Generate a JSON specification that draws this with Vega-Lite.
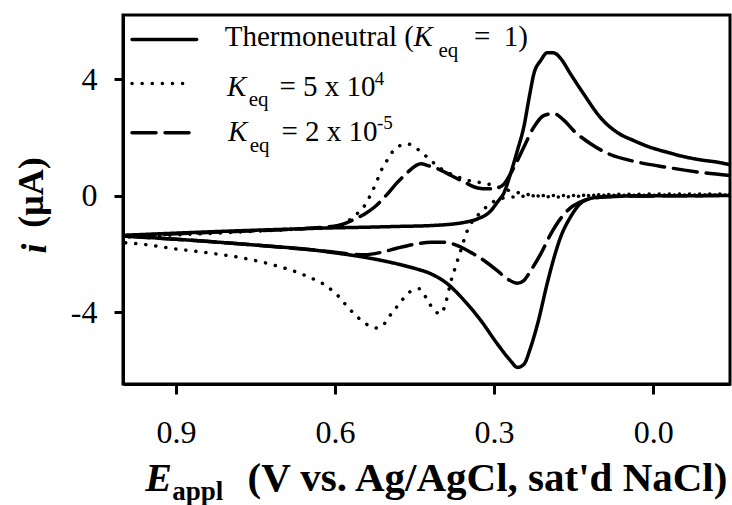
{
  "$schema": "https://vega.github.io/schema/vega-lite/v6.json",
  "width": 607,
  "height": 369,
  "autosize": {"type": "none"},
  "padding": {"left": 123, "top": 15, "right": 2, "bottom": 121},
  "background": "white",
  "config": {
    "view": {"stroke": "black", "strokeWidth": 3},
    "axis": {
      "grid": false,
      "domainColor": "black",
      "domainWidth": 3,
      "tickColor": "black",
      "tickWidth": 3,
      "labelColor": "black",
      "labelFont": "Liberation Serif",
      "labelFontSize": 32,
      "titleFont": "Liberation Serif",
      "titleColor": "black",
      "titleFontWeight": "bold"
    }
  },
  "datasets": {
    "curves": [
      {"s":"T","b":"T1","k":0,"E":0.995,"I":-1.38},{"s":"T","b":"T1","k":1,"E":0.95,"I":-1.44},{"s":"T","b":"T1","k":2,"E":0.90,"I":-1.50},{"s":"T","b":"T1","k":3,"E":0.85,"I":-1.56},{"s":"T","b":"T1","k":4,"E":0.80,"I":-1.63},{"s":"T","b":"T1","k":5,"E":0.75,"I":-1.70},{"s":"T","b":"T1","k":6,"E":0.70,"I":-1.77},{"s":"T","b":"T1","k":7,"E":0.65,"I":-1.85},{"s":"T","b":"T1","k":8,"E":0.607,"I":-1.95},{"s":"T","b":"T1","k":9,"E":0.544,"I":-2.12},{"s":"T","b":"T1","k":10,"E":0.482,"I":-2.35},{"s":"T","b":"T1","k":11,"E":0.45,"I":-2.50},{"s":"T","b":"T1","k":12,"E":0.419,"I":-2.69},{"s":"T","b":"T1","k":13,"E":0.388,"I":-3.03},{"s":"T","b":"T1","k":14,"E":0.356,"I":-3.61},{"s":"T","b":"T1","k":15,"E":0.325,"I":-4.29},{"s":"T","b":"T1","k":16,"E":0.294,"I":-5.09},{"s":"T","b":"T1","k":17,"E":0.269,"I":-5.67},{"s":"T","b":"T1","k":18,"E":0.256,"I":-5.90},{"s":"T","b":"T1","k":19,"E":0.244,"I":-5.80},{"s":"T","b":"T1","k":20,"E":0.231,"I":-5.21},{"s":"T","b":"T1","k":21,"E":0.218,"I":-4.41},{"s":"T","b":"T1","k":22,"E":0.200,"I":-3.03},{"s":"T","b":"T1","k":23,"E":0.188,"I":-2.20},{"s":"T","b":"T1","k":24,"E":0.175,"I":-1.45},{"s":"T","b":"T1","k":25,"E":0.156,"I":-0.74},{"s":"T","b":"T1","k":26,"E":0.137,"I":-0.27},{"s":"T","b":"T1","k":27,"E":0.12,"I":-0.11},{"s":"T","b":"T1","k":28,"E":0.10,"I":-0.05},{"s":"T","b":"T1","k":29,"E":0.06,"I":-0.02},{"s":"T","b":"T1","k":30,"E":0.0,"I":-0.01},{"s":"T","b":"T1","k":31,"E":-0.145,"I":0.0},
      {"s":"T","b":"T2","k":0,"E":-0.145,"I":1.06},{"s":"T","b":"T2","k":1,"E":-0.12,"I":1.15},{"s":"T","b":"T2","k":2,"E":-0.088,"I":1.23},{"s":"T","b":"T2","k":3,"E":-0.057,"I":1.34},{"s":"T","b":"T2","k":4,"E":-0.026,"I":1.49},{"s":"T","b":"T2","k":5,"E":0.006,"I":1.66},{"s":"T","b":"T2","k":6,"E":0.037,"I":1.89},{"s":"T","b":"T2","k":7,"E":0.068,"I":2.17},{"s":"T","b":"T2","k":8,"E":0.10,"I":2.69},{"s":"T","b":"T2","k":9,"E":0.131,"I":3.49},{"s":"T","b":"T2","k":10,"E":0.156,"I":4.18},{"s":"T","b":"T2","k":11,"E":0.175,"I":4.72},{"s":"T","b":"T2","k":12,"E":0.188,"I":4.90},{"s":"T","b":"T2","k":13,"E":0.200,"I":4.90},{"s":"T","b":"T2","k":14,"E":0.212,"I":4.64},{"s":"T","b":"T2","k":15,"E":0.225,"I":4.18},{"s":"T","b":"T2","k":16,"E":0.233,"I":3.45},{"s":"T","b":"T2","k":17,"E":0.244,"I":2.35},{"s":"T","b":"T2","k":18,"E":0.256,"I":1.55},{"s":"T","b":"T2","k":19,"E":0.269,"I":0.75},{"s":"T","b":"T2","k":20,"E":0.281,"I":0.11},{"s":"T","b":"T2","k":21,"E":0.294,"I":-0.23},{"s":"T","b":"T2","k":22,"E":0.306,"I":-0.52},{"s":"T","b":"T2","k":23,"E":0.331,"I":-0.80},{"s":"T","b":"T2","k":24,"E":0.356,"I":-0.92},{"s":"T","b":"T2","k":25,"E":0.419,"I":-1.03},{"s":"T","b":"T2","k":26,"E":0.482,"I":-1.06},{"s":"T","b":"T2","k":27,"E":0.55,"I":-1.09},{"s":"T","b":"T2","k":28,"E":0.607,"I":-1.11},{"s":"T","b":"T2","k":29,"E":0.70,"I":-1.16},{"s":"T","b":"T2","k":30,"E":0.80,"I":-1.22},{"s":"T","b":"T2","k":31,"E":0.90,"I":-1.29},{"s":"T","b":"T2","k":32,"E":0.995,"I":-1.36},
      {"s":"A","b":"A1","k":0,"E":0.995,"I":-1.62},{"s":"A","b":"A1","k":1,"E":0.95,"I":-1.70},{"s":"A","b":"A1","k":2,"E":0.914,"I":-1.80},{"s":"A","b":"A1","k":3,"E":0.851,"I":-1.94},{"s":"A","b":"A1","k":4,"E":0.785,"I":-2.11},{"s":"A","b":"A1","k":5,"E":0.723,"I":-2.35},{"s":"A","b":"A1","k":6,"E":0.657,"I":-2.74},{"s":"A","b":"A1","k":7,"E":0.613,"I":-3.15},{"s":"A","b":"A1","k":8,"E":0.594,"I":-3.45},{"s":"A","b":"A1","k":9,"E":0.576,"I":-3.83},{"s":"A","b":"A1","k":10,"E":0.554,"I":-4.23},{"s":"A","b":"A1","k":11,"E":0.532,"I":-4.50},{"s":"A","b":"A1","k":12,"E":0.520,"I":-4.55},{"s":"A","b":"A1","k":13,"E":0.510,"I":-4.46},{"s":"A","b":"A1","k":14,"E":0.494,"I":-4.06},{"s":"A","b":"A1","k":15,"E":0.479,"I":-3.72},{"s":"A","b":"A1","k":16,"E":0.460,"I":-3.32},{"s":"A","b":"A1","k":17,"E":0.441,"I":-3.20},{"s":"A","b":"A1","k":18,"E":0.425,"I":-3.61},{"s":"A","b":"A1","k":19,"E":0.413,"I":-3.95},{"s":"A","b":"A1","k":20,"E":0.400,"I":-4.06},{"s":"A","b":"A1","k":21,"E":0.391,"I":-3.66},{"s":"A","b":"A1","k":22,"E":0.381,"I":-2.92},{"s":"A","b":"A1","k":23,"E":0.372,"I":-2.40},{"s":"A","b":"A1","k":24,"E":0.363,"I":-1.89},{"s":"A","b":"A1","k":25,"E":0.353,"I":-1.32},{"s":"A","b":"A1","k":26,"E":0.322,"I":-0.52},{"s":"A","b":"A1","k":27,"E":0.303,"I":-0.23},{"s":"A","b":"A1","k":28,"E":0.281,"I":-0.08},{"s":"A","b":"A1","k":29,"E":0.25,"I":-0.03},{"s":"A","b":"A1","k":30,"E":0.20,"I":0.0},{"s":"A","b":"A1","k":31,"E":-0.145,"I":0.02},
      {"s":"A","b":"A2","k":0,"E":-0.145,"I":0.05},{"s":"A","b":"A2","k":1,"E":0.0,"I":0.05},{"s":"A","b":"A2","k":2,"E":0.10,"I":0.03},{"s":"A","b":"A2","k":3,"E":0.140,"I":-0.02},{"s":"A","b":"A2","k":4,"E":0.175,"I":-0.05},{"s":"A","b":"A2","k":5,"E":0.212,"I":-0.02},{"s":"A","b":"A2","k":6,"E":0.250,"I":0.08},{"s":"A","b":"A2","k":7,"E":0.275,"I":0.19},{"s":"A","b":"A2","k":8,"E":0.312,"I":0.40},{"s":"A","b":"A2","k":9,"E":0.353,"I":0.54},{"s":"A","b":"A2","k":10,"E":0.375,"I":0.69},{"s":"A","b":"A2","k":11,"E":0.400,"I":0.92},{"s":"A","b":"A2","k":12,"E":0.419,"I":1.20},{"s":"A","b":"A2","k":13,"E":0.441,"I":1.55},{"s":"A","b":"A2","k":14,"E":0.463,"I":1.77},{"s":"A","b":"A2","k":15,"E":0.485,"I":1.64},{"s":"A","b":"A2","k":16,"E":0.500,"I":1.26},{"s":"A","b":"A2","k":17,"E":0.513,"I":0.86},{"s":"A","b":"A2","k":18,"E":0.522,"I":0.46},{"s":"A","b":"A2","k":19,"E":0.532,"I":0.06},{"s":"A","b":"A2","k":20,"E":0.544,"I":-0.34},{"s":"A","b":"A2","k":21,"E":0.563,"I":-0.69},{"s":"A","b":"A2","k":22,"E":0.582,"I":-0.95},{"s":"A","b":"A2","k":23,"E":0.601,"I":-1.06},{"s":"A","b":"A2","k":24,"E":0.65,"I":-1.13},{"s":"A","b":"A2","k":25,"E":0.70,"I":-1.18},{"s":"A","b":"A2","k":26,"E":0.80,"I":-1.27},{"s":"A","b":"A2","k":27,"E":0.90,"I":-1.35},{"s":"A","b":"A2","k":28,"E":0.995,"I":-1.43},
      {"s":"B","b":"B1","k":0,"E":0.995,"I":-1.40},{"s":"B","b":"B1","k":1,"E":0.90,"I":-1.50},{"s":"B","b":"B1","k":2,"E":0.80,"I":-1.63},{"s":"B","b":"B1","k":3,"E":0.70,"I":-1.78},{"s":"B","b":"B1","k":4,"E":0.607,"I":-1.93},{"s":"B","b":"B1","k":5,"E":0.569,"I":-2.01},{"s":"B","b":"B1","k":6,"E":0.544,"I":-2.03},{"s":"B","b":"B1","k":7,"E":0.513,"I":-1.95},{"s":"B","b":"B1","k":8,"E":0.482,"I":-1.80},{"s":"B","b":"B1","k":9,"E":0.450,"I":-1.67},{"s":"B","b":"B1","k":10,"E":0.419,"I":-1.60},{"s":"B","b":"B1","k":11,"E":0.394,"I":-1.60},{"s":"B","b":"B1","k":12,"E":0.369,"I":-1.72},{"s":"B","b":"B1","k":13,"E":0.344,"I":-1.95},{"s":"B","b":"B1","k":14,"E":0.319,"I":-2.23},{"s":"B","b":"B1","k":15,"E":0.294,"I":-2.58},{"s":"B","b":"B1","k":16,"E":0.275,"I":-2.86},{"s":"B","b":"B1","k":17,"E":0.256,"I":-3.01},{"s":"B","b":"B1","k":18,"E":0.244,"I":-2.92},{"s":"B","b":"B1","k":19,"E":0.231,"I":-2.58},{"s":"B","b":"B1","k":20,"E":0.212,"I":-2.00},{"s":"B","b":"B1","k":21,"E":0.194,"I":-1.35},{"s":"B","b":"B1","k":22,"E":0.175,"I":-0.80},{"s":"B","b":"B1","k":23,"E":0.156,"I":-0.42},{"s":"B","b":"B1","k":24,"E":0.131,"I":-0.17},{"s":"B","b":"B1","k":25,"E":0.10,"I":-0.06},{"s":"B","b":"B1","k":26,"E":0.05,"I":-0.02},{"s":"B","b":"B1","k":27,"E":-0.145,"I":0.0},
      {"s":"B","b":"B2","k":0,"E":-0.145,"I":0.69},{"s":"B","b":"B2","k":1,"E":-0.088,"I":0.80},{"s":"B","b":"B2","k":2,"E":-0.026,"I":0.97},{"s":"B","b":"B2","k":3,"E":0.037,"I":1.18},{"s":"B","b":"B2","k":4,"E":0.081,"I":1.41},{"s":"B","b":"B2","k":5,"E":0.118,"I":1.78},{"s":"B","b":"B2","k":6,"E":0.150,"I":2.23},{"s":"B","b":"B2","k":7,"E":0.168,"I":2.58},{"s":"B","b":"B2","k":8,"E":0.187,"I":2.81},{"s":"B","b":"B2","k":9,"E":0.206,"I":2.75},{"s":"B","b":"B2","k":10,"E":0.225,"I":2.35},{"s":"B","b":"B2","k":11,"E":0.244,"I":1.66},{"s":"B","b":"B2","k":12,"E":0.256,"I":1.20},{"s":"B","b":"B2","k":13,"E":0.269,"I":0.75},{"s":"B","b":"B2","k":14,"E":0.281,"I":0.40},{"s":"B","b":"B2","k":15,"E":0.294,"I":0.26},{"s":"B","b":"B2","k":16,"E":0.312,"I":0.23},{"s":"B","b":"B2","k":17,"E":0.331,"I":0.26},{"s":"B","b":"B2","k":18,"E":0.356,"I":0.46},{"s":"B","b":"B2","k":19,"E":0.381,"I":0.69},{"s":"B","b":"B2","k":20,"E":0.406,"I":0.92},{"s":"B","b":"B2","k":21,"E":0.425,"I":1.03},{"s":"B","b":"B2","k":22,"E":0.438,"I":1.09},{"s":"B","b":"B2","k":23,"E":0.450,"I":1.00},{"s":"B","b":"B2","k":24,"E":0.463,"I":0.80},{"s":"B","b":"B2","k":25,"E":0.482,"I":0.46},{"s":"B","b":"B2","k":26,"E":0.504,"I":0.00},{"s":"B","b":"B2","k":27,"E":0.526,"I":-0.40},{"s":"B","b":"B2","k":28,"E":0.544,"I":-0.63},{"s":"B","b":"B2","k":29,"E":0.569,"I":-0.86},{"s":"B","b":"B2","k":30,"E":0.594,"I":-1.03},{"s":"B","b":"B2","k":31,"E":0.65,"I":-1.12},{"s":"B","b":"B2","k":32,"E":0.70,"I":-1.17},{"s":"B","b":"B2","k":33,"E":0.80,"I":-1.24},{"s":"B","b":"B2","k":34,"E":0.90,"I":-1.31},{"s":"B","b":"B2","k":35,"E":0.995,"I":-1.38}
    ],
    "keys": [
      {"s":"T","E":0.983,"E2":0.861,"I":5.36},
      {"s":"A","E":0.983,"E2":0.870,"I":3.85},
      {"s":"B","E":0.983,"E2":0.870,"I":2.16}
    ],
    "plain": [
      {"t":"Thermoneutral (","E":0.808,"I":5.15},
      {"t":"=","E":0.338,"I":5.15},
      {"t":"1)","E":0.282,"I":5.15},
      {"t":"= 5 x 10","E":0.705,"I":3.43},
      {"t":"= 2 x 10","E":0.701,"I":1.89}
    ],
    "italic": [
      {"t":"K","E":0.452,"I":5.15},
      {"t":"K","E":0.804,"I":3.43},
      {"t":"K","E":0.802,"I":1.89}
    ],
    "sub": [
      {"t":"eq","E":0.405,"I":4.77},
      {"t":"eq","E":0.763,"I":3.09},
      {"t":"eq","E":0.761,"I":1.48}
    ],
    "sup": [
      {"t":"4","E":0.525,"I":3.80},
      {"t":"-5","E":0.521,"I":2.30}
    ],
    "xt1": [{"t":"E","E":0.958,"I":-10.13}],
    "xt2": [{"t":"appl","E":0.907,"I":-10.44}],
    "yt": [{"t":"i","E":1.166,"I":-1.82}]
  },
  "encoding": {
    "x": {
      "field": "E", "type": "quantitative",
      "scale": {"domain": [-0.145, 1.0], "reverse": true, "nice": false, "zero": false},
      "axis": {
        "values": [0.9, 0.6, 0.3, 0.0], "format": ".1f",
        "tickSize": 10, "labelPadding": 23,
        "title": "(V vs. Ag/AgCl, sat'd NaCl)",
        "titleFontSize": 41, "titleX": 124, "titleY": 106,
        "titleAlign": "left", "titleBaseline": "alphabetic", "titleAnchor": "start"
      }
    },
    "y": {
      "field": "I", "type": "quantitative",
      "scale": {"domain": [-6.47, 6.2], "nice": false, "zero": false},
      "axis": {
        "values": [-4, 0, 4], "tickSize": 9, "labelPadding": 17,
        "labelExpr": "replace(datum.label, '−', '-')",
        "title": "(μA)", "titleFontSize": 36,
        "titleX": -92, "titleY": 177, "titleAngle": -90,
        "titleAlign": "center", "titleBaseline": "middle"
      }
    }
  },
  "layer": [
    {
      "data": {"name": "curves"},
      "mark": {"type": "line", "strokeWidth": 3.5, "color": "black", "strokeCap": "round", "interpolate": "monotone", "clip": true},
      "encoding": {
        "detail": {"field": "b"},
        "order": {"field": "k", "type": "quantitative"},
        "strokeDash": {
          "field": "s", "type": "nominal",
          "scale": {"domain": ["T", "A", "B"], "range": [[1, 0], [0.1, 10], [24, 9]]},
          "legend": null
        }
      }
    },
    {
      "data": {"name": "keys"},
      "mark": {"type": "rule", "strokeWidth": 3.5, "color": "black", "strokeCap": "round"},
      "encoding": {
        "x2": {"field": "E2"},
        "strokeDash": {"field": "s", "type": "nominal", "legend": null}
      }
    },
    {
      "data": {"name": "plain"},
      "mark": {"type": "text", "align": "left", "baseline": "alphabetic", "font": "Liberation Serif", "fontSize": 29, "color": "black"},
      "encoding": {"text": {"field": "t"}}
    },
    {
      "data": {"name": "italic"},
      "mark": {"type": "text", "align": "left", "baseline": "alphabetic", "font": "Liberation Serif", "fontSize": 29, "fontStyle": "italic", "color": "black"},
      "encoding": {"text": {"field": "t"}}
    },
    {
      "data": {"name": "sub"},
      "mark": {"type": "text", "align": "left", "baseline": "alphabetic", "font": "Liberation Serif", "fontSize": 21, "color": "black"},
      "encoding": {"text": {"field": "t"}}
    },
    {
      "data": {"name": "sup"},
      "mark": {"type": "text", "align": "left", "baseline": "alphabetic", "font": "Liberation Serif", "fontSize": 19, "color": "black"},
      "encoding": {"text": {"field": "t"}}
    },
    {
      "data": {"name": "xt1"},
      "mark": {"type": "text", "align": "left", "baseline": "alphabetic", "font": "Liberation Serif", "fontSize": 40, "fontStyle": "italic", "fontWeight": "bold", "color": "black"},
      "encoding": {"text": {"field": "t"}}
    },
    {
      "data": {"name": "xt2"},
      "mark": {"type": "text", "align": "left", "baseline": "alphabetic", "font": "Liberation Serif", "fontSize": 27, "fontWeight": "bold", "color": "black"},
      "encoding": {"text": {"field": "t"}}
    },
    {
      "data": {"name": "yt"},
      "mark": {"type": "text", "align": "center", "baseline": "middle", "angle": 270, "font": "Liberation Serif", "fontSize": 36, "fontStyle": "italic", "fontWeight": "bold", "color": "black"},
      "encoding": {"text": {"field": "t"}}
    }
  ]
}
